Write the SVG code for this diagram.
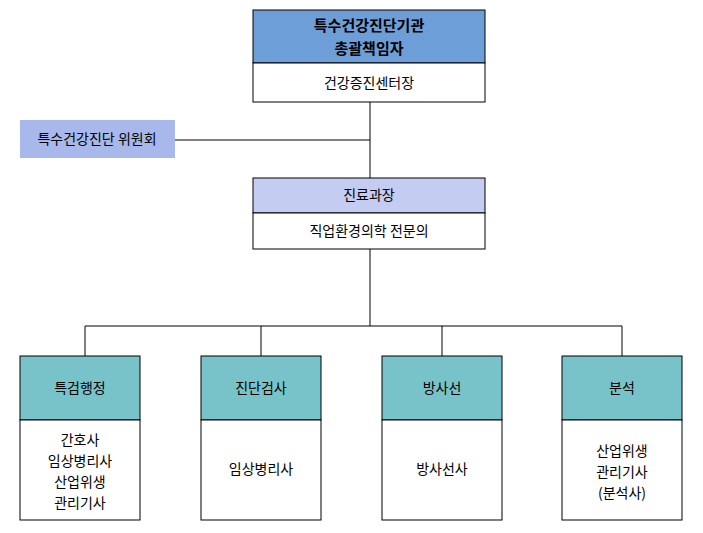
<svg xmlns="http://www.w3.org/2000/svg" width="703" height="533" viewBox="0 0 703 533">
<style>
text{font-family:"Noto Sans CJK KR","Noto Sans",sans-serif;font-size:14px;text-anchor:middle;fill:#000}
.b{font-weight:bold;font-size:15px}
.box{stroke:#000;stroke-width:1}
.w{fill:#fff}
.t{fill:#78c3c9}
line{stroke:#000;stroke-width:1}
</style>
<rect x="0" y="0" width="703" height="533" fill="#fff"/>
<g id="connectors">
<line x1="370" y1="102" x2="370" y2="178"/>
<line x1="175" y1="140" x2="370" y2="140"/>
<line x1="370" y1="249" x2="370" y2="326"/>
<line x1="85" y1="326" x2="622" y2="326"/>
<line x1="85" y1="326" x2="85" y2="356"/>
<line x1="261" y1="326" x2="261" y2="356"/>
<line x1="442" y1="326" x2="442" y2="356"/>
<line x1="622" y1="326" x2="622" y2="356"/>
</g>
<g id="top">
<rect x="253" y="10" width="232" height="53" fill="#6e9ed8" class="box"/>
<rect x="253" y="63" width="232" height="39" class="w box"/>
<text x="369" y="31" class="b">특수건강진단기관</text>
<text x="369" y="54" class="b">총괄책임자</text>
<text x="369" y="88">건강증진센터장</text>
</g>
<g id="committee">
<rect x="20" y="120" width="155" height="38" fill="#a8b8ea"/>
<text x="97" y="144">특수건강진단 위원회</text>
</g>
<g id="mid">
<rect x="253" y="178" width="232" height="35" fill="#c4ccf1" class="box"/>
<rect x="253" y="213" width="232" height="36" class="w box"/>
<text x="369" y="200">진료과장</text>
<text x="369" y="236">직업환경의학 전문의</text>
</g>
<g id="n1">
<rect x="20" y="356" width="120" height="64" class="t box"/>
<rect x="20" y="420" width="120" height="100" class="w box"/>
<text x="80" y="393">특검행정</text>
<text x="80" y="445">간호사</text>
<text x="80" y="466">임상병리사</text>
<text x="80" y="487">산업위생</text>
<text x="80" y="508">관리기사</text>
</g>
<g id="n2">
<rect x="201" y="356" width="120" height="64" class="t box"/>
<rect x="201" y="420" width="120" height="100" class="w box"/>
<text x="261" y="393">진단검사</text>
<text x="261" y="474">임상병리사</text>
</g>
<g id="n3">
<rect x="382" y="356" width="120" height="64" class="t box"/>
<rect x="382" y="420" width="120" height="100" class="w box"/>
<text x="442" y="393">방사선</text>
<text x="442" y="474">방사선사</text>
</g>
<g id="n4">
<rect x="562" y="356" width="120" height="64" class="t box"/>
<rect x="562" y="420" width="120" height="100" class="w box"/>
<text x="622" y="393">분석</text>
<text x="622" y="456">산업위생</text>
<text x="622" y="477">관리기사</text>
<text x="622" y="498">(분석사)</text>
</g>
</svg>
